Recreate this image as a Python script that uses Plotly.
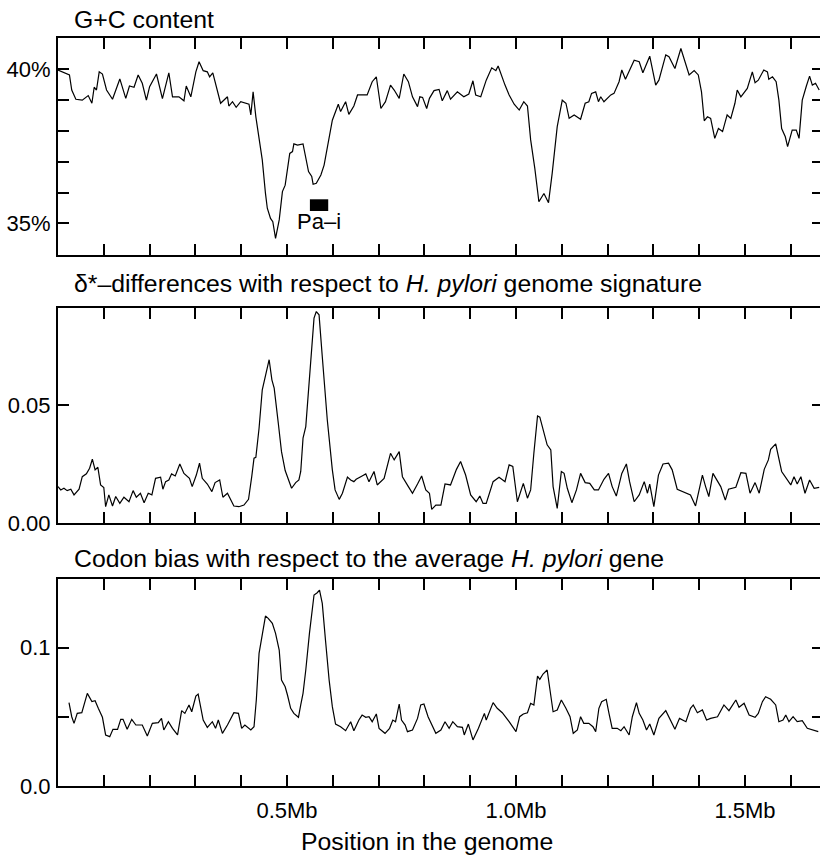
import plotly.graph_objects as go

# ---------------- data ----------------
# G+C content (%) along the genome (position in Mb)
gc_pos = [0.000, 0.025, 0.030, 0.039, 0.053, 0.066, 0.074, 0.079, 0.084, 0.090, 0.097, 0.106, 0.119, 0.135,
          0.148, 0.156, 0.166, 0.175, 0.184, 0.193, 0.200, 0.215, 0.228, 0.242, 0.250, 0.264, 0.275, 0.280,
          0.290, 0.301, 0.308, 0.317, 0.326, 0.331, 0.338, 0.355, 0.370, 0.373, 0.381, 0.389, 0.399, 0.410,
          0.417, 0.421, 0.426, 0.432, 0.446, 0.453, 0.457, 0.464, 0.469, 0.475, 0.483, 0.490, 0.496, 0.506,
          0.512, 0.515, 0.523, 0.535, 0.541, 0.547, 0.554, 0.557, 0.564, 0.574, 0.581, 0.599, 0.612, 0.617,
          0.628, 0.635, 0.646, 0.654, 0.664, 0.675, 0.686, 0.695, 0.705, 0.715, 0.726, 0.734, 0.745, 0.755,
          0.765, 0.774, 0.785, 0.790, 0.796, 0.805, 0.811, 0.821, 0.832, 0.839, 0.850, 0.857, 0.872, 0.886,
          0.897, 0.906, 0.912, 0.923, 0.935, 0.947, 0.956, 0.961, 0.976, 0.985, 0.996, 1.007, 1.017, 1.025,
          1.032, 1.041, 1.050, 1.061, 1.071, 1.079, 1.090, 1.101, 1.109, 1.116, 1.127, 1.141, 1.151, 1.159,
          1.165, 1.174, 1.180, 1.185, 1.192, 1.207, 1.214, 1.225, 1.231, 1.239, 1.258, 1.269, 1.277, 1.292,
          1.305, 1.312, 1.327, 1.334, 1.347, 1.360, 1.378, 1.389, 1.398, 1.405, 1.411, 1.418, 1.425, 1.434,
          1.442, 1.451, 1.461, 1.469, 1.478, 1.483, 1.491, 1.505, 1.516, 1.522, 1.529, 1.541, 1.549, 1.552,
          1.560, 1.568, 1.574, 1.580, 1.588, 1.593, 1.603, 1.612, 1.618, 1.625, 1.634, 1.641, 1.647, 1.654,
          1.662]
gc_val = [39.98, 39.82, 39.33, 39.03, 39.00, 39.15, 38.90, 39.42, 39.33, 39.92, 39.85, 39.33, 39.03, 39.69,
          39.06, 39.46, 39.42, 39.82, 39.55, 39.00, 39.44, 39.85, 39.05, 39.89, 39.11, 39.11, 38.98, 39.46,
          39.11, 39.92, 40.25, 39.96, 39.92, 39.76, 39.89, 38.90, 39.11, 38.81, 38.95, 38.77, 38.95, 38.90,
          38.87, 38.52, 39.27, 38.46, 37.06, 35.97, 35.49, 35.16, 35.05, 34.51, 35.11, 36.03, 36.24, 37.27,
          37.33, 37.58, 37.54, 37.58, 37.06, 36.68, 36.52, 36.27, 36.30, 36.57, 36.89, 38.35, 38.87, 38.63,
          38.95, 38.54, 38.81, 39.17, 39.17, 39.17, 39.60, 39.76, 38.73, 38.95, 39.49, 39.33, 39.06, 39.85,
          39.60, 39.11, 38.79, 39.11, 39.09, 38.73, 39.06, 39.31, 39.35, 38.98, 39.31, 39.03, 39.27, 39.11,
          39.20, 39.63, 39.17, 39.11, 39.65, 40.05, 39.96, 40.11, 39.49, 39.17, 38.87, 38.68, 38.95, 38.81,
          37.71, 36.79, 35.70, 35.97, 35.67, 36.62, 38.14, 39.00, 38.90, 38.41, 38.52, 38.38, 38.90, 38.95,
          39.22, 39.27, 38.95, 39.11, 38.95, 39.17, 39.22, 39.60, 39.98, 39.68, 40.30, 40.25, 39.89, 40.43,
          39.49, 39.65, 40.47, 40.41, 40.03, 40.68, 39.82, 39.96, 39.82, 39.27, 38.33, 38.46, 38.41, 37.76,
          38.08, 37.98, 38.52, 38.41, 38.90, 39.33, 39.11, 39.38, 39.92, 39.57, 39.65, 39.98, 39.92, 39.68,
          39.76, 39.60, 39.00, 38.08, 37.81, 37.49, 38.03, 38.03, 37.76, 39.00, 39.46, 39.78, 39.49, 39.55,
          39.33]

# delta*-differences with respect to the H. pylori genome signature
ds_pos = [0.000, 0.006, 0.013, 0.020, 0.028, 0.035, 0.046, 0.053, 0.062, 0.069, 0.075, 0.081, 0.087, 0.093,
          0.100, 0.104, 0.111, 0.119, 0.126, 0.135, 0.144, 0.155, 0.164, 0.171, 0.180, 0.188, 0.197, 0.205,
          0.213, 0.224, 0.229, 0.235, 0.242, 0.248, 0.256, 0.266, 0.275, 0.287, 0.293, 0.302, 0.309, 0.315,
          0.326, 0.336, 0.343, 0.353, 0.360, 0.370, 0.384, 0.395, 0.406, 0.416, 0.423, 0.428, 0.432, 0.439,
          0.446, 0.453, 0.461, 0.467, 0.472, 0.481, 0.488, 0.496, 0.503, 0.510, 0.519, 0.526, 0.530, 0.535,
          0.541, 0.552, 0.559, 0.564, 0.570, 0.577, 0.588, 0.599, 0.605, 0.614, 0.621, 0.632, 0.639, 0.646,
          0.651, 0.664, 0.672, 0.679, 0.690, 0.697, 0.712, 0.726, 0.734, 0.745, 0.752, 0.765, 0.774, 0.785,
          0.794, 0.803, 0.811, 0.816, 0.825, 0.836, 0.845, 0.857, 0.870, 0.879, 0.890, 0.901, 0.913, 0.921,
          0.928, 0.935, 0.950, 0.963, 0.976, 0.985, 0.993, 1.003, 1.016, 1.025, 1.032, 1.039, 1.047, 1.052,
          1.061, 1.068, 1.076, 1.081, 1.090, 1.099, 1.105, 1.112, 1.122, 1.132, 1.141, 1.151, 1.161, 1.171,
          1.180, 1.192, 1.202, 1.210, 1.219, 1.231, 1.241, 1.248, 1.258, 1.269, 1.280, 1.287, 1.292, 1.301,
          1.311, 1.321, 1.333, 1.341, 1.352, 1.367, 1.381, 1.392, 1.407, 1.414, 1.421, 1.430, 1.440, 1.447,
          1.457, 1.464, 1.480, 1.491, 1.502, 1.511, 1.522, 1.531, 1.542, 1.551, 1.556, 1.567, 1.580, 1.590,
          1.600, 1.607, 1.614, 1.622, 1.631, 1.641, 1.651, 1.662]
ds_val = [0.0154, 0.0140, 0.0147, 0.0137, 0.0143, 0.0119, 0.0143, 0.0196, 0.0208, 0.0232, 0.0270, 0.0225,
          0.0236, 0.0161, 0.0150, 0.0069, 0.0119, 0.0072, 0.0112, 0.0083, 0.0109, 0.0090, 0.0137, 0.0109,
          0.0126, 0.0086, 0.0126, 0.0119, 0.0189, 0.0194, 0.0143, 0.0175, 0.0182, 0.0208, 0.0199, 0.0250,
          0.0210, 0.0189, 0.0154, 0.0203, 0.0253, 0.0189, 0.0165, 0.0133, 0.0171, 0.0182, 0.0109, 0.0126,
          0.0072, 0.0069, 0.0076, 0.0100, 0.0196, 0.0274, 0.0278, 0.0401, 0.0564, 0.0620, 0.0691, 0.0606,
          0.0571, 0.0422, 0.0302, 0.0222, 0.0182, 0.0147, 0.0171, 0.0182, 0.0218, 0.0359, 0.0408, 0.0691,
          0.0867, 0.0895, 0.0881, 0.0705, 0.0436, 0.0225, 0.0140, 0.0100, 0.0126, 0.0194, 0.0182, 0.0175,
          0.0185, 0.0199, 0.0208, 0.0175, 0.0218, 0.0161, 0.0189, 0.0295, 0.0267, 0.0302, 0.0196, 0.0154,
          0.0126, 0.0165, 0.0199, 0.0140, 0.0126, 0.0058, 0.0076, 0.0076, 0.0165, 0.0161, 0.0227, 0.0260,
          0.0203, 0.0119, 0.0090, 0.0114, 0.0083, 0.0083, 0.0175, 0.0194, 0.0175, 0.0246, 0.0239, 0.0090,
          0.0168, 0.0105, 0.0140, 0.0295, 0.0453, 0.0448, 0.0380, 0.0331, 0.0309, 0.0154, 0.0062, 0.0218,
          0.0210, 0.0147, 0.0086, 0.0140, 0.0210, 0.0171, 0.0168, 0.0140, 0.0140, 0.0185, 0.0210, 0.0154,
          0.0114, 0.0210, 0.0250, 0.0175, 0.0090, 0.0119, 0.0175, 0.0126, 0.0165, 0.0069, 0.0203, 0.0250,
          0.0253, 0.0225, 0.0143, 0.0129, 0.0119, 0.0072, 0.0203, 0.0154, 0.0112, 0.0210, 0.0175, 0.0154,
          0.0097, 0.0143, 0.0151, 0.0213, 0.0210, 0.0126, 0.0171, 0.0126, 0.0227, 0.0267, 0.0312, 0.0335,
          0.0218, 0.0189, 0.0161, 0.0196, 0.0165, 0.0196, 0.0126, 0.0182, 0.0147, 0.0151]

# Codon bias with respect to the average H. pylori gene
cb_pos = [0.024, 0.030, 0.035, 0.042, 0.052, 0.059, 0.064, 0.074, 0.081, 0.088, 0.097, 0.104, 0.113, 0.120,
          0.130, 0.137, 0.142, 0.151, 0.161, 0.170, 0.184, 0.195, 0.206, 0.219, 0.226, 0.231, 0.241, 0.250,
          0.261, 0.270, 0.277, 0.286, 0.292, 0.301, 0.306, 0.317, 0.326, 0.337, 0.344, 0.350, 0.359, 0.370,
          0.384, 0.394, 0.401, 0.408, 0.421, 0.428, 0.433, 0.439, 0.446, 0.453, 0.459, 0.468, 0.475, 0.483,
          0.488, 0.496, 0.501, 0.508, 0.515, 0.525, 0.530, 0.535, 0.541, 0.549, 0.559, 0.566, 0.571, 0.577,
          0.584, 0.592, 0.599, 0.606, 0.617, 0.628, 0.639, 0.646, 0.657, 0.664, 0.672, 0.679, 0.686, 0.695,
          0.701, 0.714, 0.724, 0.731, 0.737, 0.745, 0.750, 0.758, 0.763, 0.774, 0.785, 0.792, 0.799, 0.808,
          0.825, 0.836, 0.845, 0.854, 0.862, 0.872, 0.883, 0.887, 0.896, 0.906, 0.918, 0.931, 0.935, 0.950,
          0.959, 0.970, 0.985, 1.000, 1.008, 1.016, 1.025, 1.032, 1.039, 1.047, 1.052, 1.059, 1.068, 1.074,
          1.081, 1.090, 1.099, 1.109, 1.118, 1.125, 1.134, 1.141, 1.148, 1.159, 1.168, 1.174, 1.181, 1.187,
          1.197, 1.203, 1.210, 1.221, 1.229, 1.236, 1.247, 1.254, 1.263, 1.269, 1.277, 1.285, 1.292, 1.301,
          1.312, 1.327, 1.338, 1.347, 1.357, 1.371, 1.381, 1.387, 1.396, 1.407, 1.416, 1.425, 1.440, 1.454,
          1.465, 1.473, 1.480, 1.487, 1.498, 1.509, 1.522, 1.529, 1.538, 1.545, 1.556, 1.567, 1.574, 1.583,
          1.589, 1.596, 1.605, 1.614, 1.625, 1.636, 1.647, 1.660]
cb_val = [0.0603, 0.0501, 0.0453, 0.0525, 0.0530, 0.0610, 0.0670, 0.0610, 0.0617, 0.0562, 0.0497, 0.0369,
          0.0357, 0.0410, 0.0410, 0.0482, 0.0482, 0.0410, 0.0482, 0.0441, 0.0441, 0.0362, 0.0453, 0.0458,
          0.0489, 0.0405, 0.0465, 0.0417, 0.0369, 0.0545, 0.0525, 0.0586, 0.0537, 0.0651, 0.0665, 0.0477,
          0.0424, 0.0465, 0.0417, 0.0477, 0.0381, 0.0441, 0.0530, 0.0525, 0.0417, 0.0441, 0.0405, 0.0429,
          0.0622, 0.0959, 0.1092, 0.1229, 0.1212, 0.1176, 0.1104, 0.0983, 0.0766, 0.0718, 0.0658, 0.0562,
          0.0525, 0.0497, 0.0586, 0.0670, 0.0839, 0.1104, 0.1381, 0.1398, 0.1417, 0.1321, 0.1056, 0.0766,
          0.0574, 0.0448, 0.0429, 0.0400, 0.0465, 0.0400, 0.0477, 0.0513, 0.0497, 0.0501, 0.0465, 0.0521,
          0.0417, 0.0381, 0.0417, 0.0477, 0.0465, 0.0593, 0.0477, 0.0441, 0.0393, 0.0405, 0.0489, 0.0586,
          0.0593, 0.0501, 0.0381, 0.0405, 0.0465, 0.0417, 0.0465, 0.0429, 0.0424, 0.0369, 0.0448, 0.0333,
          0.0417, 0.0525, 0.0477, 0.0603, 0.0562, 0.0530, 0.0465, 0.0393, 0.0501, 0.0521, 0.0530, 0.0598,
          0.0586, 0.0795, 0.0771, 0.0810, 0.0839, 0.0706, 0.0537, 0.0550, 0.0622, 0.0562, 0.0501, 0.0381,
          0.0405, 0.0501, 0.0453, 0.0453, 0.0429, 0.0393, 0.0562, 0.0610, 0.0627, 0.0525, 0.0417, 0.0417,
          0.0400, 0.0429, 0.0369, 0.0501, 0.0603, 0.0525, 0.0477, 0.0405, 0.0448, 0.0369, 0.0489, 0.0545,
          0.0477, 0.0410, 0.0489, 0.0465, 0.0562, 0.0586, 0.0530, 0.0550, 0.0477, 0.0489, 0.0501, 0.0586,
          0.0545, 0.0586, 0.0622, 0.0569, 0.0598, 0.0513, 0.0497, 0.0525, 0.0610, 0.0646, 0.0627, 0.0586,
          0.0465, 0.0477, 0.0513, 0.0465, 0.0501, 0.0465, 0.0472, 0.0417, 0.0405, 0.0393]

# ticks
x_tickvals = [0.1, 0.2, 0.3, 0.4, 0.5, 0.6, 0.7, 0.8, 0.9, 1.0, 1.1, 1.2, 1.3, 1.4, 1.5, 1.6]
x_ticktext = ["", "", "", "", "0.5Mb", "", "", "", "", "1.0Mb", "", "", "", "", "1.5Mb", ""]
gc_tickvals = [35, 36, 37, 38, 39, 40]
gc_ticktext = ["35%", "", "", "", "", "40%"]
ds_tickvals = [0.0, 0.05]
ds_ticktext = ["0.00", "0.05"]
cb_tickvals = [0.0, 0.05, 0.1]
cb_ticktext = ["0.0", "", "0.1"]

# Pathogenicity island (Pa-i) location, Mb
pai_start, pai_end = 0.55, 0.59

# ---------------- figure ----------------
FONT = "Liberation Sans, Arial, Helvetica, sans-serif"
# the reference's right frame edge lies just past the visible 820 px
W, H = 823, 856
X_RANGE = [0, 1.6703]

fig = go.Figure()
line = dict(color="black", width=1.2)
fig.add_trace(go.Scatter(x=gc_pos, y=gc_val, mode="lines", line=line, xaxis="x", yaxis="y"))
fig.add_trace(go.Scatter(x=ds_pos, y=ds_val, mode="lines", line=line, xaxis="x2", yaxis="y2"))
fig.add_trace(go.Scatter(x=cb_pos, y=cb_val, mode="lines", line=line, xaxis="x3", yaxis="y3"))

def px_to_paper_y(py):
    return 1 - py / H

def px_to_paper_x(px):
    return (px - 58) / (W - 58)

axis_common = dict(showline=True, linecolor="black", linewidth=2, mirror="ticks",
                   ticks="inside", ticklen=11, tickwidth=2, tickcolor="black",
                   showgrid=False, zeroline=False, automargin=False,
                   tickfont=dict(family=FONT, size=22, color="black"))

def xaxis(anchor, show_labels):
    d = dict(axis_common)
    d.update(range=X_RANGE, anchor=anchor, tickmode="array", tickvals=x_tickvals,
             ticktext=x_ticktext if show_labels else [""] * len(x_tickvals),
             ticklabelstandoff=4)
    return d

def yaxis(anchor, dom, rng, tv, tt):
    d = dict(axis_common)
    d.update(domain=dom, range=rng, anchor=anchor, tickmode="array", tickvals=tv, ticktext=tt,
             ticklabelstandoff=1)
    return d

fig.update_layout(
    template="none",
    width=W, height=H,
    margin=dict(l=58, r=0, t=0, b=0, autoexpand=False),
    paper_bgcolor="white", plot_bgcolor="white",
    showlegend=False,
    font=dict(family=FONT, size=22, color="black"),
    xaxis=xaxis("y", False),
    xaxis2=xaxis("y2", False),
    xaxis3=xaxis("y3", True),
    yaxis=yaxis("x", [px_to_paper_y(255), px_to_paper_y(38)], [33.97, 41.02], gc_tickvals, gc_ticktext),
    yaxis2=yaxis("x2", [px_to_paper_y(523), px_to_paper_y(308)], [0, 0.091], ds_tickvals, ds_ticktext),
    yaxis3=yaxis("x3", [px_to_paper_y(786), px_to_paper_y(579)], [0, 0.1497], cb_tickvals, cb_ticktext),
)

title_font = dict(family=FONT, size=24.8, color="black")
ann = [
    dict(text="G+C content", x=px_to_paper_x(72), y=px_to_paper_y(20)),
    dict(text="δ*–differences with respect to <i>H. pylori</i> genome signature",
         x=px_to_paper_x(72), y=px_to_paper_y(283)),
    dict(text="Codon bias with respect to the average <i>H. pylori</i> gene",
         x=px_to_paper_x(72), y=px_to_paper_y(558)),
]
for a in ann:
    fig.add_annotation(xref="paper", yref="paper", xanchor="left", yanchor="middle",
                       showarrow=False, font=title_font, **a)

fig.add_annotation(xref="paper", yref="paper", x=px_to_paper_x(427), y=px_to_paper_y(841),
                   xanchor="center", yanchor="middle", showarrow=False,
                   text="Position in the genome", font=title_font)

# Pa-i marker
fig.add_shape(type="rect", xref="x", yref="y", x0=pai_start, x1=pai_end, y0=35.40, y1=35.78,
              fillcolor="black", line=dict(width=0))
fig.add_annotation(xref="x", yref="y", x=(pai_start + pai_end) / 2, y=35.05, text="Pa–i",
                   xanchor="center", yanchor="middle", showarrow=False,
                   font=dict(family=FONT, size=22, color="black"))

fig.write_html("out.html", config={"displayModeBar": False},
               post_script="document.body.style.margin='0';document.body.style.overflow='hidden';")
